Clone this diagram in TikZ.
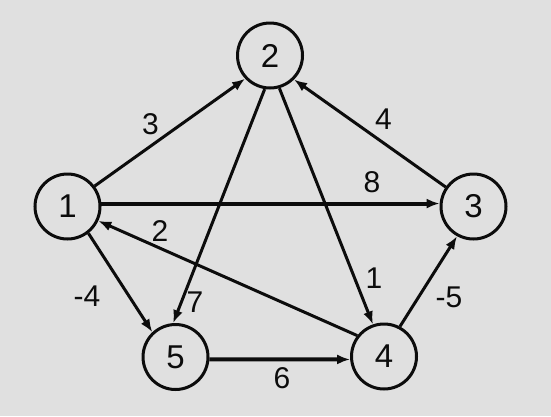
\documentclass[tikz,border=0pt]{standalone}
\usepackage{fontspec}
\setmainfont{Liberation Sans}
\usetikzlibrary{arrows.meta}
\definecolor{bg}{RGB}{224,224,224}
\definecolor{ink}{RGB}{12,12,12}
\begin{document}
\begin{tikzpicture}[x=1pt,y=-1pt,
  vert/.style={circle,draw=ink,line width=3pt,fill=bg,minimum size=65pt,inner sep=0pt,font=\fontsize{33}{33}\selectfont,text=ink},
  edge/.style={draw=ink,line width=3pt,-{Latex[length=13pt,width=10pt]}},
  heavy/.style={edge,line width=4pt},
  wlab/.style={font=\fontsize{30}{30}\selectfont,text=ink,inner sep=0pt}]
\fill[bg] (0,0) rectangle (551,416);
\useasboundingbox (0,0) rectangle (551,416);
\node[vert] (n1) at (67.5,206.5) {1};
\node[vert] (n2) at (270,55.5) {2};
\node[vert] (n3) at (473.5,206.5) {3};
\node[vert] (n4) at (384,356.5) {4};
\node[vert] (n5) at (175.5,357) {5};
\draw[edge] (n1.37) -- (n2.223);
\draw[heavy] (n1.5) -- (n3.175);
\draw[edge] (n3.145) -- (n2.315);
\draw[edge] (n2.261) -- (n5.94);
\draw[edge] (n2.286) -- (n4.109);
\draw[edge] (n4.142) -- (n1.335);
\draw[edge] (n1.308) -- (n5.133);
\draw[heavy] (n5.356) -- (n4.185);
\draw[edge] (n4.62) -- (n3.241);
\node[wlab] (l3) at (150.5,124) {3};
\node[wlab] (l8) at (372,182.5) {8};
\node[wlab] (l4) at (383.5,119) {4};
\node[wlab] (l2) at (160,231) {2};
\node[wlab] (lm4) at (87,296) {-4};
\node[wlab] (l7) at (195,302) {7};
\node[wlab] (l1) at (374,278) {1};
\node[wlab] (lm5) at (449,297.5) {-5};
\node[wlab] (l6) at (282,378) {6};
\end{tikzpicture}
\end{document}
